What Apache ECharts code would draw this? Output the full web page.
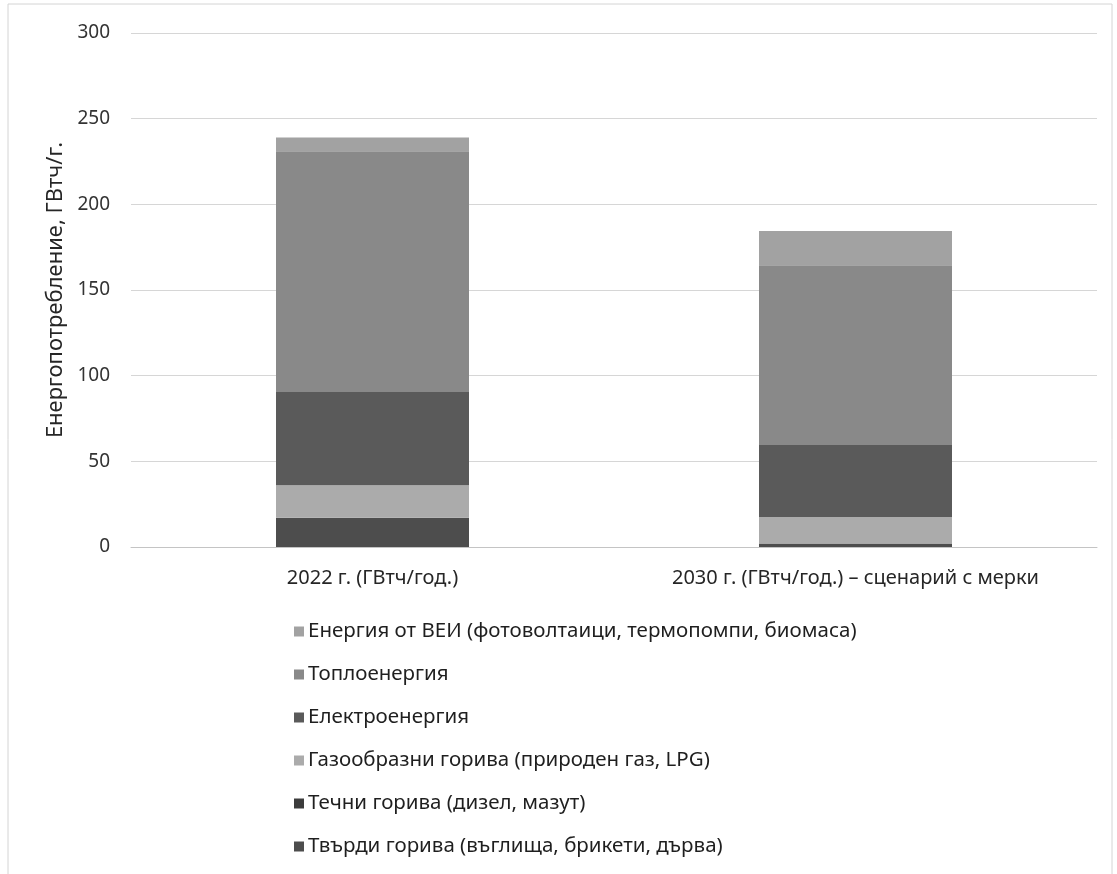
<!DOCTYPE html>
<html>
<head>
<meta charset="utf-8">
<script src="https://cdn.jsdelivr.net/npm/echarts@6/dist/echarts.min.js"></script>
<style>
html,body{margin:0;padding:0;background:#fff;}
#chart{width:1117px;height:874px;}
</style>
</head>
<body>
<div id="chart"></div>
<script>
const categories = ['2022 г. (ГВтч/год.)', '2030 г. (ГВтч/год.) – сценарий с мерки'];
const yTicks = [0, 50, 100, 150, 200, 250, 300];
const seriesNames = [
  'Твърди горива (въглища, брикети, дърва)',
  'Течни горива (дизел, мазут)',
  'Газообразни горива (природен газ, LPG)',
  'Електроенергия',
  'Топлоенергия',
  'Енергия от ВЕИ (фотоволтаици, термопомпи, биомаса)'
];
const solidFuels = [17, 2];
const liquidFuels = [0, 0];
const gasFuels = [19, 15.5];
const electricity = [54.5, 42];
const heat = [140.5, 105];
const renewables = [8, 20];
const seriesColors = ['#4d4d4d', '#3c3c3c', '#ababab', '#5a5a5a', '#898989', '#a2a2a2'];

const values = [solidFuels, liquidFuels, gasFuels, electricity, heat, renewables];
const font = "'Noto Sans', 'DejaVu Sans', sans-serif";

const chart = echarts.init(document.getElementById('chart'));
chart.setOption({
  backgroundColor: '#ffffff',
  animation: false,
  textStyle: { fontFamily: font },
  graphic: [{
    type: 'rect', silent: true,
    shape: { x: 8, y: 4, width: 1104, height: 890 },
    style: { fill: 'none', stroke: '#d4d4d4', lineWidth: 1 }
  }],
  grid: { left: 131, right: 20, top: 33, bottom: 327, containLabel: false },
  legend: {
    orient: 'vertical',
    left: 289,
    top: 616,
    itemWidth: 10,
    itemHeight: 10,
    itemGap: 22,
    icon: 'rect',
    data: seriesNames.slice().reverse(),
    textStyle: { fontFamily: font, fontSize: 20.5, color: '#1f1f1f', padding: [0, 0, 0, -1] }
  },
  xAxis: {
    type: 'category',
    data: categories,
    axisTick: { show: false },
    axisLine: { show: true, lineStyle: { color: '#c4c4c4', width: 1 } },
    axisLabel: { fontFamily: font, fontSize: 20, color: '#262626', margin: 21 }
  },
  yAxis: {
    type: 'value',
    min: 0, max: 300, interval: 50,
    name: 'Енергопотребление, ГВтч/г.',
    nameLocation: 'middle',
    nameGap: 57,
    nameTextStyle: { fontFamily: font, fontSize: 22, color: '#262626' },
    axisLine: { show: false },
    axisTick: { show: false },
    axisLabel: { fontFamily: font, fontSize: 19, color: '#333333', margin: 21,
      formatter: v => yTicks.includes(v) ? String(v) : '' },
    splitLine: { lineStyle: { color: '#d6d6d6', width: 1 } }
  },
  series: seriesNames.map((name, i) => ({
    name: name,
    type: 'bar',
    stack: 'total',
    barWidth: 193,
    data: values[i],
    itemStyle: { color: seriesColors[i] }
  }))
});
</script>
</body>
</html>
